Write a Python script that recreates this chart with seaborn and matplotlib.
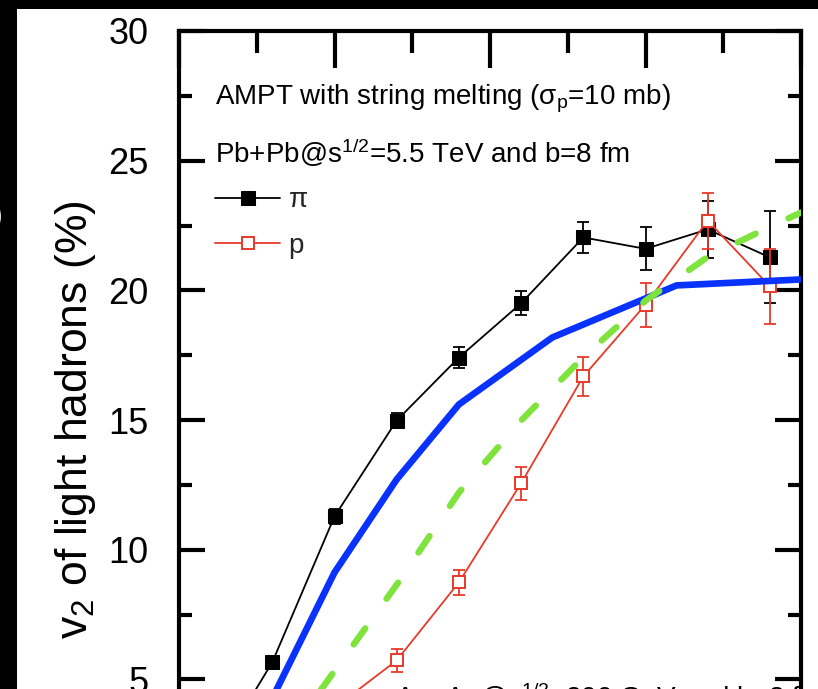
import matplotlib
matplotlib.use("Agg")
import matplotlib.pyplot as plt
import seaborn as sns
from matplotlib.patches import Rectangle
from matplotlib.ticker import MultipleLocator

# AMPT (string melting) elliptic flow of light hadrons vs transverse momentum
pt = [0.2, 0.6, 1.0, 1.4, 1.8, 2.2, 2.6, 3.0, 3.4, 3.8]
pion_v2 = [1.7, 5.66, 11.28, 14.98, 17.41, 19.5, 22.04, 21.6, 22.35, 21.27]
pion_err = [0.2, 0.25, 0.3, 0.3, 0.4, 0.46, 0.6, 0.83, 1.1, 1.77]
proton_v2 = [0.5, 2.0, 3.9, 5.73, 8.74, 12.56, 16.68, 19.45, 22.69, 20.15]
proton_err = [0.3, 0.35, 0.4, 0.44, 0.48, 0.64, 0.75, 0.85, 1.08, 1.43]

# comparison curves
pt_blue = [0.2, 0.6, 1.0, 1.4, 1.8, 2.4, 3.2, 4.0]
v2_blue = [1.5, 4.27, 9.12, 12.71, 15.6, 18.18, 20.19, 20.42]
pt_green = [0.2, 0.6, 1.0, 1.4, 1.8, 2.2, 2.6, 3.0, 3.4, 3.8, 4.0]
v2_green = [0.3, 2.0, 5.32, 8.65, 12.2, 14.98, 17.42, 19.6, 21.29, 22.45, 23.0]

yticks = [0, 5, 10, 15, 20, 25, 30]

sns.set_theme(style="ticks")
plt.rcParams["font.family"] = ["Liberation Sans", "DejaVu Sans"]
plt.rcParams["mathtext.fontset"] = "custom"
plt.rcParams["mathtext.rm"] = "Liberation Sans"
plt.rcParams["mathtext.it"] = "Liberation Sans:italic"
plt.rcParams["mathtext.default"] = "regular"

W, H = 818, 689
fig = plt.figure(figsize=(W / 100, H / 100), dpi=100, facecolor="white")
# axes box in pixels: left 179, right 801, top 31, bottom 809 (below the canvas)
ax = fig.add_axes([179 / W, (H - 809) / H, 622 / W, 778 / H])
ax.set_facecolor("white")

# pions
ax.errorbar(pt, pion_v2, yerr=pion_err, fmt="none", ecolor="black",
            elinewidth=1.3, capsize=4.5, capthick=1.3, zorder=2)
sns.lineplot(x=pt, y=pion_v2, ax=ax, color="black", lw=1.3, marker="s",
             markersize=10, markeredgecolor="black", markerfacecolor="black",
             sort=False, label="π", zorder=2.2)

# protons
ax.errorbar(pt, proton_v2, yerr=proton_err, fmt="none", ecolor="#e8392a",
            elinewidth=1.3, capsize=4.5, capthick=1.3, zorder=3)
sns.lineplot(x=pt, y=proton_v2, ax=ax, color="#e8392a", lw=1.3, marker="s",
             markersize=9, markeredgecolor="#e8392a", markerfacecolor="white",
             markeredgewidth=1.4, sort=False, label="p", zorder=3.2)

# model curves
sns.lineplot(x=pt_blue, y=v2_blue, ax=ax, color="#0a32ff", lw=4.8,
             sort=False, zorder=4, solid_joinstyle="round", legend=False)
sns.lineplot(x=pt_green, y=v2_green, ax=ax, color="#7ee33c", lw=4.6,
             sort=False, zorder=5, dashes=False, legend=False)
ax.lines[-1].set_dashes((3.1, 5.7))
ax.lines[-1].set_dash_capstyle("round")

ax.set_xlim(0, 4)
ax.set_ylim(0, 30)
ax.set_yticks(yticks)
ax.xaxis.set_major_locator(MultipleLocator(1))
ax.xaxis.set_minor_locator(MultipleLocator(0.5))
ax.yaxis.set_minor_locator(MultipleLocator(2.5))
ax.tick_params(axis="both", which="both", direction="in", top=True, right=True,
               bottom=True, left=True, labelbottom=False, labeltop=False,
               labelright=False, width=3, color="black")
ax.tick_params(axis="x", which="major", length=26.6)
ax.tick_params(axis="x", which="minor", length=15.8)
ax.tick_params(axis="y", which="major", length=18.7, pad=22, labelsize=26,
               labelcolor="black")
ax.tick_params(axis="y", which="minor", length=9.4)
for s in ax.spines.values():
    s.set_linewidth(3)
    s.set_color("black")

ax.set_xlabel("")
ax.set_ylabel("v$_2$ of light hadrons (%)", fontsize=32, color="black")
ax.yaxis.set_label_coords(-0.130, 0.5)

ax.text(0.058, 0.905, "AMPT with string melting (σ$_{p}$=10 mb)",
        transform=ax.transAxes, fontsize=20, va="baseline", ha="left", color="black")
ax.text(0.058, 0.830, "Pb+Pb@s$^{1/2}$=5.5 TeV and b=8 fm",
        transform=ax.transAxes, fontsize=20, va="baseline", ha="left", color="black")
ax.text(0.348, 0.131, "Au+Au@s$^{1/2}$=200 GeV and b=8 fm",
        transform=ax.transAxes, fontsize=20, va="baseline", ha="left", color="black")

handles, labels = ax.get_legend_handles_labels()
ax.legend(handles, labels, loc="upper left", bbox_to_anchor=(0.058, 0.799),
          frameon=False, fontsize=20, handlelength=2.35, handletextpad=0.3,
          labelspacing=0.70, borderpad=0, borderaxespad=0)

# dark border strips and panel tag
fig.add_artist(Rectangle((0, 0), 17 / W, 1, transform=fig.transFigure,
                         facecolor="black", edgecolor="none", zorder=10))
fig.add_artist(Rectangle((0, 1 - 9 / H), 1, 9 / H, transform=fig.transFigure,
                         facecolor="black", edgecolor="none", zorder=10))
fig.text(4 / W, 1 - 216 / H, "(b)", color="white", fontsize=24, ha="right",
         va="center", zorder=11)

fig.savefig("out.png", dpi=100, facecolor="white")
